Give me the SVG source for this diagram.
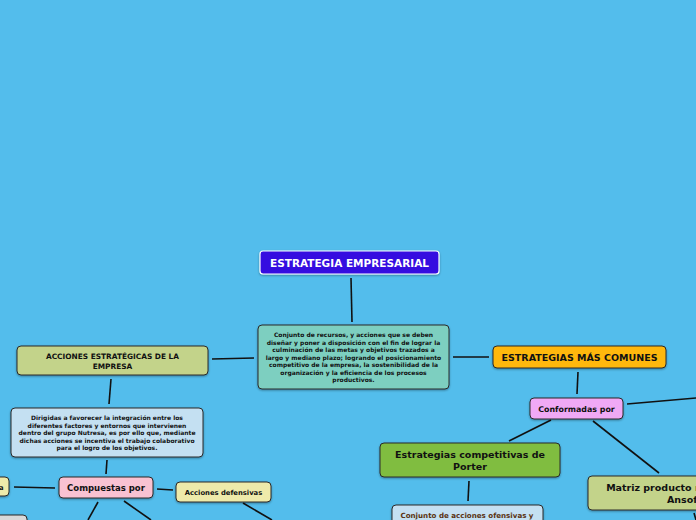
<svg xmlns="http://www.w3.org/2000/svg" width="696" height="520" viewBox="0 0 696 520">
<defs>
<filter id="sh" x="-10%" y="-10%" width="120%" height="130%"><feDropShadow dx="0" dy="1" stdDeviation="0.8" flood-color="#000" flood-opacity="0.35"/></filter>
</defs>
<style>
text{font-family:"DejaVu Sans","Verdana",sans-serif;font-weight:bold;text-anchor:middle;fill:#111}
.b{stroke:#2a2a2a;stroke-width:1;filter:url(#sh)}
.s{font-size:6px}
.l{font-size:9.5px}
#connectors line{stroke:#111;stroke-width:1.6}
</style>
<rect width="696" height="520" fill="#53bdec"/>
<g id="connectors">
<line x1="351" y1="278" x2="352" y2="322"/>
<line x1="212" y1="359" x2="254" y2="358"/>
<line x1="453" y1="357" x2="489" y2="357"/>
<line x1="111" y1="379" x2="109" y2="404"/>
<line x1="107" y1="460" x2="106" y2="474"/>
<line x1="14" y1="487" x2="55" y2="488"/>
<line x1="157" y1="489" x2="173" y2="490"/>
<line x1="98" y1="502" x2="88" y2="520"/>
<line x1="124" y1="501" x2="151" y2="520"/>
<line x1="243" y1="503" x2="272" y2="520"/>
<line x1="578" y1="372" x2="577" y2="394"/>
<line x1="627" y1="404" x2="696" y2="398"/>
<line x1="551" y1="420" x2="509" y2="441"/>
<line x1="593" y1="421" x2="659" y2="473"/>
<line x1="469" y1="481" x2="468" y2="501"/>
<line x1="694" y1="513" x2="696" y2="520"/>
</g>
<g id="n-title">
<rect x="260" y="251" width="179" height="23" rx="3" fill="#3510e0" stroke="#fff" stroke-width="1.2" filter="url(#sh)"/>
<text x="349.5" y="266.5" style="font-size:10.5px;fill:#fff">ESTRATEGIA EMPRESARIAL</text>
</g>
<g id="n-center">
<rect class="b" x="258" y="325" width="191" height="64" rx="4" fill="#7dcfc0"/>
<text class="s" x="353.5" y="337">Conjunto de recursos, y acciones que se deben</text>
<text class="s" x="353.5" y="344.5">diseñar y poner a disposición con el fin de lograr la</text>
<text class="s" x="353.5" y="352">culminación de las metas y objetivos trazados a</text>
<text class="s" x="353.5" y="359.5">largo y mediano plazo; logrando el posicionamiento</text>
<text class="s" x="353.5" y="367">competitivo de la empresa, la sostenibilidad de la</text>
<text class="s" x="353.5" y="374.5">organización y la eficiencia de los procesos</text>
<text class="s" x="353.5" y="382">productivos.</text>
</g>
<g id="n-acciones">
<rect class="b" x="17" y="346" width="191" height="29" rx="4" fill="#c3d38a"/>
<text x="112.5" y="358.5" style="font-size:7.4px">ACCIONES ESTRATÉGICAS DE LA</text>
<text x="112.5" y="368.5" style="font-size:7.4px">EMPRESA</text>
</g>
<g id="n-dirigidas">
<rect class="b" x="11" y="408" width="192" height="49" rx="4" fill="#c4e0f2"/>
<text class="s" x="107" y="420">Dirigidas a favorecer la integración entre los</text>
<text class="s" x="107" y="427.5">diferentes factores y entornos que intervienen</text>
<text class="s" x="107" y="435">dentro del grupo Nutresa, es por ello que, mediante</text>
<text class="s" x="107" y="442.5">dichas acciones se incentiva el trabajo colaborativo</text>
<text class="s" x="107" y="450">para el logro de los objetivos.</text>
</g>
<g id="n-compuestas">
<rect class="b" x="59" y="477" width="94" height="21" rx="4" fill="#f9c2d2"/>
<text x="106" y="490.8" style="font-size:8.5px">Compuestas por</text>
</g>
<g id="n-defensivas">
<rect class="b" x="176" y="482" width="95" height="20" rx="4" fill="#eeeaaa"/>
<text x="223.5" y="494.5" style="font-size:6.8px">Acciones defensivas</text>
</g>
<g id="n-left">
<rect class="b" x="-40" y="477" width="49" height="19" rx="4" fill="#eeeaaa"/>
<text x="3.5" y="489.5" style="font-size:6.8px;text-anchor:end">a</text>
</g>
<g id="n-grey">
<rect class="b" x="-40" y="515" width="67" height="20" rx="4" fill="#d9d9d9" stroke="#6b4a2a"/>
</g>
<g id="n-comunes">
<rect class="b" x="493" y="346" width="173" height="22" rx="4" fill="#ffb80d"/>
<text x="579.5" y="360.8" style="font-size:9.5px">ESTRATEGIAS MÁS COMUNES</text>
</g>
<g id="n-conformadas">
<rect class="b" x="530" y="398" width="93" height="21" rx="4" fill="#f0a9f5"/>
<text x="576.5" y="411.6" style="font-size:7.9px">Conformadas por</text>
</g>
<g id="n-porter">
<rect class="b" x="380" y="443" width="180" height="34" rx="4" fill="#80bd41"/>
<text class="l" x="470" y="457.5">Estrategias competitivas de</text>
<text class="l" x="470" y="469.5">Porter</text>
</g>
<g id="n-ansoff">
<rect class="b" x="588" y="476" width="194" height="34" rx="4" fill="#c3d38a"/>
<text class="l" x="682" y="490.5">Matriz producto mercado de</text>
<text class="l" x="684" y="502.5">Ansoff</text>
</g>
<g id="n-conjunto">
<rect class="b" x="392" y="505" width="151" height="30" rx="4" fill="#c4e0f2" stroke="#6b4a2a"/>
<text x="467" y="518" style="font-size:7.1px;fill:#5a3210">Conjunto de acciones ofensivas y</text>
</g>
</svg>
